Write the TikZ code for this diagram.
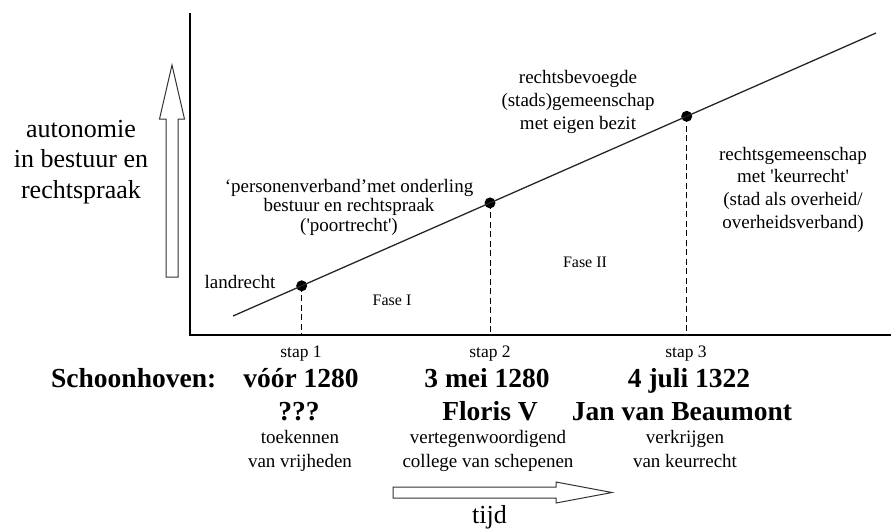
\documentclass[tikz,border=0pt]{standalone}
\usepackage{fontspec}
\setmainfont{Liberation Serif}
\newcommand{\mlines}[1]{\begin{tabular}[t]{@{}c@{}}#1\end{tabular}}
\begin{document}
\begin{tikzpicture}[x=1pt,y=-1pt,
  txt/.style={inner sep=0pt,anchor=base},
  small/.style={txt,font=\fontsize{19}{24}\selectfont},
  stapl/.style={txt,font=\fontsize{17.5}{20}\selectfont},
  fasel/.style={txt,font=\fontsize{16}{19}\selectfont},
  big/.style={txt,font=\fontsize{26}{30.5}\selectfont},
  boldl/.style={txt,font=\fontsize{27.5}{33}\selectfont\bfseries},
  dot/.style={circle,fill=black,inner sep=0pt,minimum size=11pt},
  axisline/.style={line width=1.7pt,black},
  trend/.style={line width=1.3pt,black!85},
  guide/.style={line width=0.9pt,dash pattern=on 6pt off 3.5pt},
  hollow/.style={draw=black!80,line width=1pt,fill=white,line join=miter}
]
\useasboundingbox (0,0) rectangle (891,528);

% axes
\coordinate (o) at (190,335);
\coordinate (ytop) at (190,13);
\coordinate (xend) at (891,335);
\draw[axisline] (ytop) -- (o) -- (xend);

% trend line and dots
\coordinate (s) at (233,316);
\coordinate (e) at (876,33);
\node[dot] (d1) at (301.7,285.8) {};
\node[dot] (d2) at (490,202.9) {};
\node[dot] (d3) at (686.7,116.3) {};
\draw[trend] (s) -- (d1.center) -- (d2.center) -- (d3.center) -- (e);

% dashed guides
\draw[guide] (d1.center) -- (d1.center |- o);
\draw[guide] (d2.center) -- (d2.center |- o);
\draw[guide] (d3.center) -- (d3.center |- o);

% hollow arrows
\draw[hollow] (166,277) -- (166,119) -- (159.5,119) -- (172,65) -- (184.5,119) -- (178,119) -- (178,277) -- cycle;
\draw[hollow] (393,487) -- (556,487) -- (556,482) -- (612,492.5) -- (556,503) -- (556,498) -- (393,498) -- cycle;

% labels in plot
\node[big] (aut) at (81,137) {\mlines{autonomie\\in bestuur en\\rechtspraak}};
\node[small] (land) at (240,288) {landrecht};
\node[fasel] (f1) at (392,305) {Fase I};
\node[fasel] (f2) at (585,267) {Fase II};
\node[small,font=\fontsize{19}{19.7}\selectfont] (pv) at (349,192)
  {\mlines{‘personenverband’met onderling\\bestuur en rechtspraak\\(\textquotesingle poortrecht\textquotesingle)}};
\node[small,font=\fontsize{19}{23}\selectfont] (rb) at (578,83)
  {\mlines{rechtsbevoegde\\(stads)gemeenschap\\met eigen bezit}};
\node[small,font=\fontsize{19}{22.7}\selectfont] (rg) at (793,160)
  {\mlines{rechtsgemeenschap\\met \textquotesingle keurrecht\textquotesingle\\(stad als overheid/\\overheidsverband)}};

% bottom columns
\node[stapl] (st1) at (301,357) {stap 1};
\node[stapl] (st2) at (490,357) {stap 2};
\node[stapl] (st3) at (686,357) {stap 3};

\node[boldl,anchor=base west] (sch) at (51,387) {Schoonhoven:};
\node[boldl] (dt1) at (301,387) {vóór 1280};
\node[boldl] (dt2) at (487,387) {3 mei 1280};
\node[boldl] (dt3) at (689,387) {4 juli 1322};

\node[boldl] (n1) at (299,420) {???};
\node[boldl] (n2) at (490,420) {Floris V};
\node[boldl] (n3) at (682,420) {Jan van Beaumont};

\node[small] (ds1) at (300,443) {\mlines{toekennen\\van vrijheden}};
\node[small] (ds2) at (488,443) {\mlines{vertegenwoordigend\\college van schepenen}};
\node[small] (ds3) at (685,443) {\mlines{verkrijgen\\van keurrecht}};

\node[big] (tijd) at (489.5,523) {tijd};
\end{tikzpicture}
\end{document}
